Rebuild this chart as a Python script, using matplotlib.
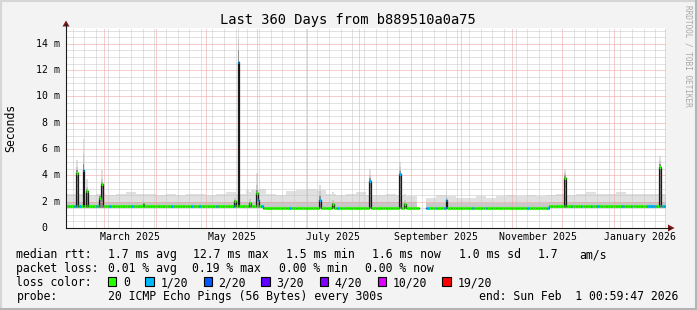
import matplotlib
matplotlib.use("Agg")
import matplotlib.pyplot as plt
import matplotlib.dates as mdates
from matplotlib.lines import Line2D
from matplotlib.patches import Polygon, Rectangle
from matplotlib.ticker import MultipleLocator
import numpy as np
from datetime import datetime, timedelta

W, H = 697, 310
MONO = "DejaVu Sans Mono"

# ---- data ----
end_time = datetime(2026, 2, 1, 0, 59, 47)
n_days = 360
start_time = end_time - timedelta(days=n_days)

# median rtt (ms) baseline as runs of (days, value)
median_runs = [(118, 1.65), (92, 1.52), (80, 1.55), (70, 1.65)]
# ping spread: lower edge and dense core, runs of (days, value)
smoke_lo_runs = [(118, 1.52), (92, 1.42), (80, 1.45), (70, 1.52)]
smoke_mid_runs = [(118, 2.0), (92, 1.95), (80, 1.9), (70, 2.0)]
# upper edge of the ping spread, one value per 6 days
smoke_hi_bins = [2.6, 2.6, 2.5, 2.6, 2.5, 2.6, 2.7, 2.6, 2.6, 2.5,
                 2.6, 2.5, 2.6, 2.6, 2.5, 2.6, 2.7, 2.6, 2.9, 3.0,
                 2.6, 2.5, 2.8, 2.9, 3.0, 2.9, 2.6, 2.5, 2.6, 2.7,
                 2.5, 2.5, 2.6, 2.5, 2.4, 2.4, 2.3, 2.5, 2.4, 2.3,
                 2.3, 2.4, 2.3, 2.4, 2.5, 2.4, 2.5, 2.4, 2.5, 2.6,
                 2.5, 2.6, 2.7, 2.6, 2.6, 2.7, 2.6, 2.6, 2.6, 2.6]
# spikes: (day, median ms, lost pings of 20, dark core top, smoke core top, smoke top)
spikes = [(6, 4.2, 0, 4.4, 4.6, 5.2), (10, 4.4, 1, 4.9, 5.6, 6.8), (12, 2.85, 0, 3.0, 3.1, 3.7),
          (20, 2.3, 0, 2.4, 2.5, 2.6), (21, 3.35, 0, 3.5, 3.7, 4.4), (46, 1.8, 0, 1.9, 2.1, 2.6),
          (101, 2.05, 0, 2.1, 2.3, 2.7), (103, 12.6, 1, 13.5, 14.4, 16.0),
          (110, 1.9, 0, 2.0, 2.2, 2.7), (114, 2.65, 0, 2.9, 3.3, 4.2), (115, 2.1, 1, 2.2, 2.4, 2.9),
          (152, 2.1, 1, 2.4, 2.8, 3.3), (160, 1.8, 0, 1.9, 2.1, 2.7), (182, 3.6, 1, 3.8, 4.0, 4.5),
          (200, 4.1, 1, 4.3, 4.6, 5.0), (203, 1.8, 0, 1.9, 2.1, 2.6), (228, 2.1, 1, 2.3, 2.5, 2.9),
          (299, 3.8, 0, 4.0, 4.2, 4.5), (356, 4.66, 0, 4.9, 5.1, 5.5)]
# days with 1/20 packet loss
loss_1_days = [5, 8, 18, 26, 39, 63, 75, 80, 90, 100, 117, 134, 163, 216, 217,
               222, 227, 244, 252, 277, 289, 303, 309, 315, 319, 334, 339, 349,
               350, 351, 352, 353, 358, 359]
gap_days = [212, 213, 214, 215]

y_ticks = [0, 2, 4, 6, 8, 10, 12, 14]
y_labels = [" 0  ", " 2 m", " 4 m", " 6 m", " 8 m", "10 m", "12 m", "14 m"]
x_labels = [(datetime(2025, 3, 16, 12), "March 2025"), (datetime(2025, 5, 16, 12), "May 2025"),
            (datetime(2025, 7, 16, 12), "July 2025"), (datetime(2025, 9, 16, 12), "September 2025"),
            (datetime(2025, 11, 16, 12), "November 2025"), (datetime(2026, 1, 16, 12), "January 2026")]

loss_names = ["0", "1/20", "2/20", "3/20", "4/20", "10/20", "19/20"]
loss_colors = ["#26ff00", "#00b8ff", "#0059ff", "#5e00ff", "#7e00ff", "#dd00ff", "#ff0000"]

stats_rtt = [("1.7 ms avg", 108), ("12.7 ms max", 193), ("1.5 ms min", 286),
             ("1.6 ms now", 372), ("1.0 ms sd", 459), ("1.7", 538), ("am/s", 579)]
stats_loss = [("0.01 % avg", 108), ("0.19 % max", 192), ("0.00 % min", 279), ("0.00 % now", 365)]

# ---- build daily series ----
def expand(runs):
    return np.concatenate([np.full(n, v, dtype=float) for n, v in runs])

median = expand(median_runs)
smoke_lo = expand(smoke_lo_runs)
smoke_mid = expand(smoke_mid_runs)
smoke_core = median.copy()
smoke_hi = np.repeat(np.array(smoke_hi_bins, dtype=float), 6)
loss = np.zeros(n_days, dtype=int)
loss[loss_1_days] = 1
for d, m, l, core, mid, hi in spikes:
    median[d], loss[d] = m, l
    smoke_core[d], smoke_mid[d], smoke_hi[d] = core, mid, hi
for d in gap_days:
    median[d] = smoke_lo[d] = smoke_mid[d] = smoke_hi[d] = smoke_core[d] = np.nan

x0 = mdates.date2num(start_time)
edges = x0 + np.arange(n_days + 1)

def ext(a):
    return np.append(a, a[-1])

# ---- figure ----
def fx(px):
    return px / W

def fy(py):
    return 1 - py / H

fig = plt.figure(figsize=(W / 100, H / 100), dpi=100, facecolor="#f3f3f3")
L, R, T, B = 66, 665.5, 28, 228
ax = fig.add_axes([fx(L), fy(B), (R - L) / W, (B - T) / H])
ax.set_facecolor("white")
ax.set_xlim(x0, mdates.date2num(end_time))
ax.set_ylim(0, 15.2)
for s in ax.spines.values():
    s.set_visible(False)

ax.fill_between(edges, ext(smoke_lo), ext(smoke_hi), step="post", color="#e0e0e0", lw=0, zorder=1)
ax.fill_between(edges, ext(smoke_lo), ext(smoke_mid), step="post", color="#c8c8c8", lw=0, zorder=1.1)
ax.fill_between(edges, ext(smoke_lo), ext(smoke_core), step="post", color="#8a8a8a", lw=0, zorder=1.2)

ax.xaxis.set_major_locator(mdates.MonthLocator())
ax.xaxis.set_minor_locator(mdates.WeekdayLocator(byweekday=mdates.MO))
ax.yaxis.set_major_locator(MultipleLocator(2))
ax.yaxis.set_minor_locator(MultipleLocator(0.5))
ax.set_axisbelow(False)
ax.grid(which="minor", color="#c6c6c6", lw=0.72, ls=(0, (1, 1)))
ax.grid(which="major", color="#f09c9c", lw=0.72, ls=(0, (1, 1)))
ax.tick_params(which="both", length=0, labelbottom=False, labelleft=False)

ax.step(edges, ext(median), where="post", color="#1a1a1a", lw=0.9, zorder=3)
ok = ~np.isnan(median)
ax.hlines(median[ok], edges[:-1][ok], edges[1:][ok],
          colors=[loss_colors[l] for l in loss[ok]], lw=2.2, zorder=4)

for v, lab in zip(y_ticks, y_labels):
    ax.text(-30 / (R - L), v, lab, transform=ax.get_yaxis_transform(),
            ha="left", va="center", family=MONO, fontsize=7.1)
for d, lab in x_labels:
    ax.text(mdates.date2num(d), -9.3 / (B - T), lab, transform=ax.get_xaxis_transform(),
            ha="center", va="center", family=MONO, fontsize=7.1)

# axes with arrows
fig.add_artist(Line2D([fx(L), fx(L)], [fy(B), fy(24)], color="#1a1a1a", lw=0.8))
fig.add_artist(Line2D([fx(L), fx(670)], [fy(B), fy(B)], color="#1a1a1a", lw=0.8))
fig.add_artist(Polygon([(fx(62.5), fy(26.5)), (fx(69.5), fy(26.5)), (fx(66), fy(20.5))],
                       closed=True, color="#7f1515", lw=0))
fig.add_artist(Polygon([(fx(668), fy(224.5)), (fx(668), fy(231.5)), (fx(674.5), fy(228))],
                       closed=True, color="#7f1515", lw=0))

# frame
fig.add_artist(Line2D([0, 1], [fy(1), fy(1)], color="#d6d6d6", lw=1.5))
fig.add_artist(Line2D([fx(1), fx(1)], [0, 1], color="#d6d6d6", lw=1.5))
fig.add_artist(Line2D([0, 1], [fy(309), fy(309)], color="#b4b4b4", lw=1.5))
fig.add_artist(Line2D([fx(696), fx(696)], [0, 1], color="#b4b4b4", lw=1.5))

# texts
fig.text(fx(348), fy(24), "Last 360 Days from b889510a0a75", ha="center", va="baseline",
         family=MONO, fontsize=9.9)
fig.text(fx(10.5), fy(128), "Seconds", rotation=90, ha="center", va="center",
         family=MONO, fontsize=8.3)
fig.text(fx(688), fy(5), "RRDTOOL / TOBI OETIKER", rotation=270, ha="center", va="top",
         family=MONO, fontsize=5.6, color="#a8a8a8")

leg = dict(family=MONO, fontsize=8.3, va="baseline", ha="left")
fig.text(fx(16.4), fy(258), "median rtt:", **leg)
for s, px in stats_rtt:
    fig.text(fx(px), fy(258), s, **leg)
fig.text(fx(16.4), fy(272), "packet loss:", **leg)
for s, px in stats_loss:
    fig.text(fx(px), fy(272), s, **leg)
fig.text(fx(16.4), fy(286), "loss color:", **leg)
box_x = [108, 145.3, 203.6, 261.3, 319.6, 377.8, 442.2]
for bx, name, c in zip(box_x, loss_names, loss_colors):
    fig.add_artist(Rectangle((fx(bx), fy(286)), 8.4 / W, 9.5 / H, facecolor=c,
                             edgecolor="black", lw=0.8))
    fig.text(fx(bx + 15), fy(286), name, **leg)
fig.text(fx(16.4), fy(300), "probe:", **leg)
fig.text(fx(108), fy(300), "20 ICMP Echo Pings (56 Bytes) every 300s", **leg)
fig.text(fx(478.7), fy(300), "end: Sun Feb  1 00:59:47 2026", **leg)

fig.savefig("out.png", dpi=100, facecolor=fig.get_facecolor())
